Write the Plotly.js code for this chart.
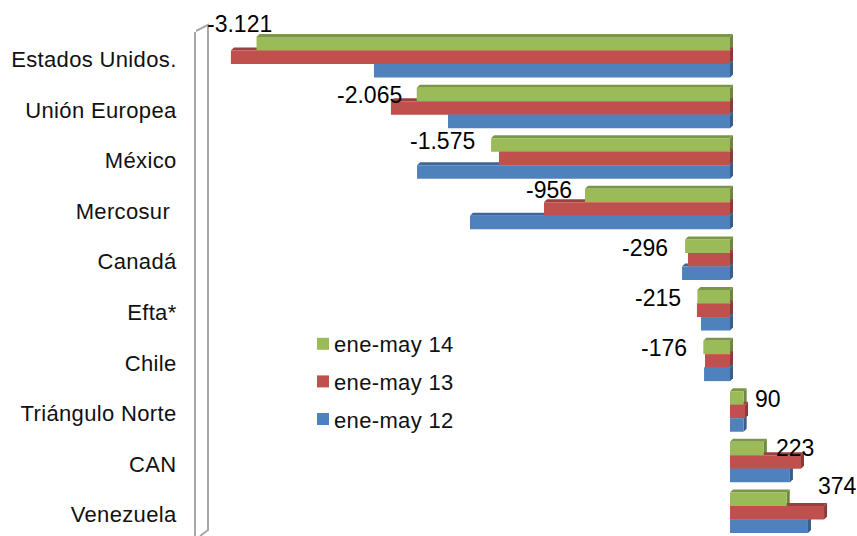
<!DOCTYPE html>
<html><head><meta charset="utf-8">
<script src="https://cdn.plot.ly/plotly-3.0.1.min.js"></script>
<style>
html,body{margin:0;padding:0;background:#fff;overflow:hidden}
.legend .legendpoints path{transform:translate(29px,0)}
.ytick text,.legendtext{letter-spacing:.35px}
</style></head><body><div id="chart" style="width:857px;height:536px"></div>
<script>
var categories=["Estados Unidos.","Unión Europea","México","Mercosur ","Canadá","Efta*","Chile","Triángulo Norte","CAN","Venezuela"];
var may14=[-3121,-2065,-1575,-956,-296,-215,-176,90,223,374];
var may13=[-3290,-2235,-1523,-1226,-277,-218,-165,99,468,620];
var may12=[-2347,-1859,-2063,-1714,-316,-191,-171,90,395,514];
var labels14=["-3.121","-2.065","-1.575","-956","-296","-215","-176","90","223","374"];

var PX=0.1517, ZERO=730, ROW=50.6, L=196, T=32;
var xr=[(L-ZERO)/PX,(857-ZERO)/PX];
var yr=[-0.5+(536-T)/ROW,-0.5];
var dX=3/PX, dY=3/ROW, BAR=(1-0.2)/3;
var labelDx=[-17,-47,-49,-36,-40,-39,-39,24,31,51];
var labelDy=[-33,-13,-18,-19,-12,-12,-13,-13,-14,-27];

var series=[
 {name:"ene-may 14",v:may14,c:"#9BBB59",top:"#7C9647",side:"#6F863F",off:-BAR},
 {name:"ene-may 13",v:may13,c:"#C0504D",top:"#9A403E",side:"#8A3A37",off:0},
 {name:"ene-may 12",v:may12,c:"#4F81BD",top:"#3F6797",side:"#385D89",off:BAR}
];
var traces=series.map(function(s){return {type:"bar",orientation:"h",name:s.name,x:s.v,y:categories,
  marker:{color:s.c,line:{width:0}},legendgroup:s.name,hoverinfo:"x+y"};});

var shapes=[];
series.forEach(function(s){s.v.forEach(function(val,i){
  var yt=i+s.off-BAR/2, yb=yt+BAR, xa=Math.min(val,0), xb=Math.max(val,0);
  shapes.push({type:"path",layer:"below",xref:"x",yref:"y",line:{width:0},fillcolor:s.top,
    path:"M"+xa+" "+yt+"L"+(xa+dX)+" "+(yt-dY)+"L"+(xb+dX)+" "+(yt-dY)+"L"+xb+" "+yt+"Z"});
  shapes.push({type:"path",layer:"below",xref:"x",yref:"y",line:{width:0},fillcolor:s.side,
    path:"M"+xb+" "+yt+"L"+(xb+dX)+" "+(yt-dY)+"L"+(xb+dX)+" "+(yb-dY)+"L"+xb+" "+yb+"Z"});
});});
var wallX=(208-ZERO)/PX, wallL=(196-ZERO)/PX;
var wall={color:"#A8A8A8",width:2};
shapes.push({type:"path",layer:"below",xref:"x",yref:"paper",line:wall,
  path:"M"+wallL+" 1.002L"+wallX+" 1.014L"+wallX+" 0.012L"+(wallX-8/PX)+" 0"});

var annotations=labels14.map(function(t,i){return {xref:"x",yref:"y",x:may14[i],y:categories[i],text:t,showarrow:false,
  xshift:labelDx[i],yshift:-labelDy[i],xanchor:"center",yanchor:"middle",font:{family:"Liberation Sans, Arial, sans-serif",size:23,color:"#000"}};});

var layout={width:857,height:536,margin:{l:L,r:0,t:T,b:0},paper_bgcolor:"#fff",plot_bgcolor:"#fff",
  barmode:"group",bargap:0.2,bargroupgap:0,showlegend:true,
  font:{family:"Liberation Sans, Arial, sans-serif",size:22,color:"#000"},
  xaxis:{range:xr,visible:false,zeroline:false,showgrid:false,fixedrange:true},
  yaxis:{type:"category",range:yr,autorange:false,showline:true,linecolor:"#A8A8A8",linewidth:2,showgrid:false,zeroline:false,
    ticks:"",ticklabelstandoff:13,ticklabelshift:-2,tickfont:{size:22,color:"#111"},categoryorder:"array",categoryarray:categories,fixedrange:true},
  legend:{x:(294-L)/661,y:1-(323-T)/504,xanchor:"left",yanchor:"top",traceorder:"grouped",tracegroupgap:6,bgcolor:"rgba(0,0,0,0)",font:{size:22,color:"#111"}},
  shapes:shapes,annotations:annotations};
Plotly.newPlot("chart",traces,layout,{displayModeBar:false,staticPlot:false});
</script></body></html>
